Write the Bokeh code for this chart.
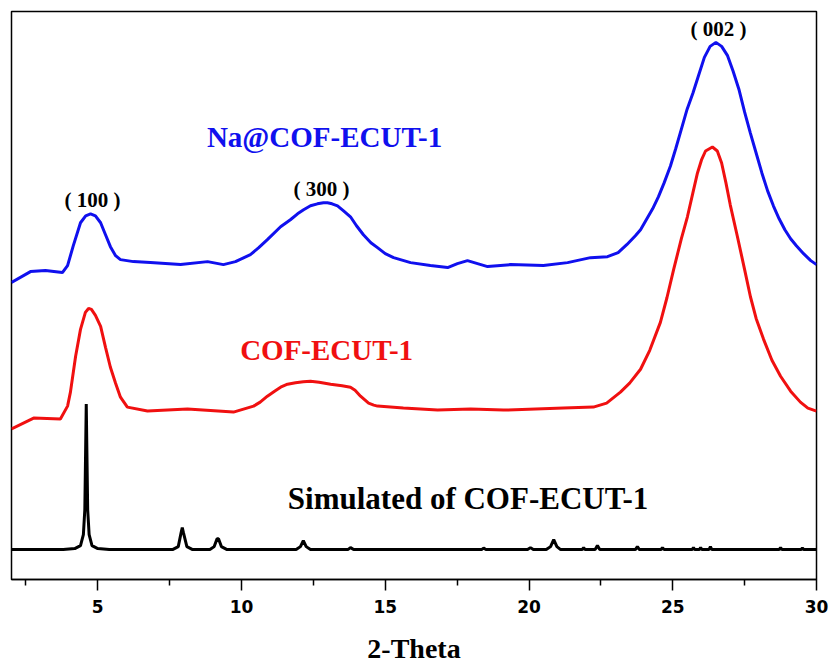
from bokeh.plotting import figure
from bokeh.models import Range1d, FixedTicker, Label
from bokeh.embed import file_html
from bokeh.resources import INLINE

# ---- data (2-Theta in degrees, intensity in arbitrary offset units) ----
na_cof_x = [2.0, 2.66, 3.18, 3.77, 3.95, 4.15, 4.40, 4.58, 4.75, 4.92, 5.10, 5.27, 5.44,
            5.62, 5.79, 6.24, 6.83, 7.88, 8.82, 9.37, 9.79, 10.31, 10.60, 10.90, 11.36,
            11.70, 11.95, 12.16, 12.40, 12.64, 12.85, 12.99, 13.15, 13.34, 13.55, 13.79,
            14.00, 14.24, 14.50, 14.73, 15.00, 15.29, 15.88, 16.57, 17.17,
            17.51, 17.86, 18.21, 18.56, 19.36, 20.50, 21.34, 22.14, 22.73, 23.10, 23.40,
            23.70, 23.88, 24.10, 24.30, 24.50, 24.70, 24.92, 25.10, 25.30, 25.50, 25.70,
            25.90, 26.10, 26.30, 26.50, 26.70, 26.90, 27.10, 27.30, 27.50, 27.70, 27.90,
            28.10, 28.30, 28.50, 28.70, 28.90, 29.10, 29.30, 29.55, 29.80, 30.0]
na_cof_y = [298, 309, 310, 308, 315, 335, 358, 365, 367, 365, 358, 346, 334,
            325, 321, 319, 318, 316, 319, 316, 319, 326, 333, 341, 354,
            361, 367, 371, 375, 377, 378, 378, 377, 375, 370, 364,
            355, 346, 338, 333, 327, 323, 318, 315, 313,
            317, 320, 317, 314, 316, 315, 318, 323, 324, 328, 336,
            345, 351, 362, 372, 384, 398, 415, 432, 452, 472, 488,
            506, 524, 535, 539, 535, 526, 510, 492, 469, 448, 428,
            408, 390, 375, 362, 351, 342, 335, 327, 320, 316]

cof_x = [2.0, 2.77, 3.70, 3.95, 4.05, 4.23, 4.40, 4.57, 4.68, 4.78, 4.92, 5.10, 5.27,
         5.44, 5.62, 5.79, 6.03, 6.73, 8.12, 9.72, 10.42, 10.65, 10.90, 11.15, 11.36,
         11.60, 11.88, 12.15, 12.40, 12.70, 13.10, 13.50, 13.79, 13.95, 14.14, 14.30,
         14.42, 14.60, 14.73, 15.63, 16.82, 17.97, 19.11, 21.20, 22.24, 22.70, 23.18,
         23.50, 23.88, 24.20, 24.57, 24.80, 25.03, 25.30, 25.51, 25.70, 25.86, 26.00,
         26.14, 26.38, 26.55, 26.70, 26.85, 27.00, 27.25, 27.50, 27.70, 27.90, 28.16,
         28.45, 28.75, 29.10, 29.44, 29.70, 30.0]
cof_y = [151, 162, 161, 174, 188, 224, 251, 268, 272, 271, 265, 254, 233,
         213, 197, 183, 173, 169, 171, 168, 174, 178, 184, 189, 193,
         196, 197.5, 198.5, 199, 198, 196, 194.5, 193, 190, 184, 180,
         177, 175, 174, 172, 170, 171, 170, 172, 173, 177, 188,
         197, 211, 230, 258, 283, 311, 342, 364, 388, 408, 421,
         430, 434, 430, 418, 398, 376, 344, 311, 284, 262, 241,
         220, 204, 189, 178, 172, 169]

sim_x = [2.0, 3.8, 4.2, 4.4, 4.5, 4.55, 4.6, 4.65, 4.7, 4.8, 5.0, 5.4,
         7.6, 7.8, 7.9, 7.94, 7.98, 8.1, 8.3,
         8.9, 9.05, 9.15, 9.2, 9.3, 9.5,
         11.9, 12.05, 12.15, 12.25, 12.4,
         13.7, 13.79, 13.9, 18.35, 18.42, 18.5, 19.95, 20.05, 20.15,
         20.6, 20.75, 20.86, 20.97, 21.1,
         21.85, 21.9, 21.95, 22.3, 22.38, 22.46, 23.7, 23.77, 23.84,
         24.6, 24.64, 24.7, 25.68, 25.72, 25.76, 25.93, 25.97, 26.01,
         26.26, 26.31, 26.36, 28.7, 28.75, 28.8, 29.46, 29.51, 29.56, 30.0]
sim_y = [30, 30, 31, 34, 45, 70, 176, 70, 45, 34, 31, 30,
         30, 33, 47, 52, 47, 33, 30,
         30, 33, 41, 41, 33, 30,
         30, 33, 39, 33, 30,
         30, 32, 30, 30, 31.5, 30, 30, 32, 30,
         30, 33, 40, 33, 30,
         30, 32, 30, 30, 34, 30, 30, 33, 30,
         30, 32, 30, 30, 32, 30, 30, 32, 30,
         30, 33, 30, 30, 32, 30, 30, 31.5, 30, 30]

x_ticks = [5, 10, 15, 20, 25, 30]
x_minor_ticks = [2.5, 7.5, 12.5, 17.5, 22.5, 27.5]

series_labels = ["Na@COF-ECUT-1", "COF-ECUT-1", "Simulated of COF-ECUT-1"]
peak_labels = ["( 100 )", "( 300 )", "( 002 )"]
x_title = "2-Theta"

BLUE = "#1010ee"
RED = "#f01010"

# ---- figure ----
p = figure(width=829, height=666, output_backend="svg", toolbar_location=None,
           x_range=Range1d(2, 30), y_range=Range1d(0, 570),
           y_axis_location=None, min_border_left=11, min_border_right=13,
           min_border_top=11, min_border_bottom=85)
p.background_fill_color = "white"
p.border_fill_color = "white"
p.outline_line_color = "black"
p.outline_line_width = 1.5
p.xgrid.visible = False
p.ygrid.visible = False

p.line(na_cof_x, na_cof_y, line_color=BLUE, line_width=3)
p.line(cof_x, cof_y, line_color=RED, line_width=3)
p.line(sim_x, sim_y, line_color="black", line_width=3)

serif = "Liberation Serif"

ax = p.xaxis[0]
ax.ticker = FixedTicker(ticks=x_ticks, minor_ticks=x_minor_ticks)
ax.axis_line_width = 1.5
ax.axis_line_color = "black"
ax.major_tick_line_width = 1.5
ax.minor_tick_line_width = 1.5
ax.major_tick_in = 0
ax.major_tick_out = 11
ax.minor_tick_in = 0
ax.minor_tick_out = 6
ax.major_label_standoff = 9
ax.major_label_text_font = "DejaVu Sans"
ax.major_label_text_font_style = "bold"
ax.major_label_text_font_size = "17px"
ax.major_label_text_color = "black"
ax.axis_label = x_title
ax.axis_label_text_font = serif
ax.axis_label_text_font_style = "bold"
ax.axis_label_text_font_size = "28px"
ax.axis_label_text_color = "black"
ax.axis_label_standoff = 17

# series labels
p.add_layout(Label(x=12.89, y=444, text=series_labels[0], text_font=serif,
                   text_font_style="bold", text_font_size="29px", text_color=BLUE,
                   text_align="center", text_baseline="middle"))
p.add_layout(Label(x=12.96, y=230, text=series_labels[1], text_font=serif,
                   text_font_style="bold", text_font_size="29px", text_color=RED,
                   text_align="center", text_baseline="middle"))
p.add_layout(Label(x=17.88, y=81, text=series_labels[2], text_font=serif,
                   text_font_style="bold", text_font_size="31px", text_color="black",
                   text_align="center", text_baseline="middle"))
# peak labels
for (px_, py_, t) in [(4.82, 381, peak_labels[0]), (12.78, 392, peak_labels[1]),
                      (26.59, 552, peak_labels[2])]:
    p.add_layout(Label(x=px_, y=py_, text=t, text_font=serif, text_font_style="bold",
                       text_font_size="21px", text_color="black",
                       text_align="center", text_baseline="middle"))

open("out.html", "w").write(file_html(p, INLINE))
